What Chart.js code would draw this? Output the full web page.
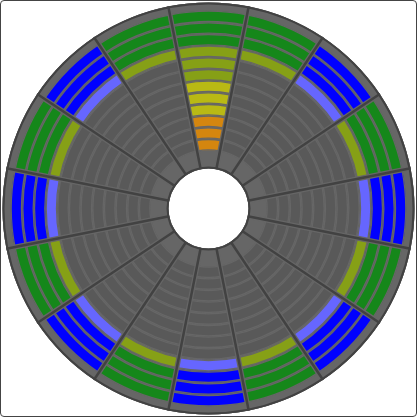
<!DOCTYPE html>
<html><head><meta charset="utf-8">
<script src="https://cdn.jsdelivr.net/npm/chart.js@4/dist/chart.umd.min.js"></script>
<style>
html,body{margin:0;padding:0;background:#fff;}
#frame{position:absolute;left:0;top:0;width:415px;height:415px;border:1px solid #444;border-radius:4px;overflow:hidden;background:#fff;}
canvas{display:block;}
</style></head><body>
<div id="frame"><canvas id="c" width="415" height="415"></canvas></div>
<script>
// 16 sectors (compass directions), clockwise from the top
const directions = ['N','NNE','NE','ENE','E','ESE','SE','SSE','S','SSW','SW','WSW','W','WNW','NW','NNW'];
// number of lit segments in each sector (counted from the rim inwards)
const litSegments = [12,4,4,4,4,4,4,4,4,4,4,4,4,4,4,4];
// sectors drawn with the blue palette
const highlighted = [false,false,true,false,true,false,true,false,true,false,true,false,true,false,true,false];
const segmentCount = 12;
// colour per band of 3 segments, innermost band first
const bandColors = ['#d4860f','#b9b914','#86a016','#15871a'];
const highlightBandColors = ['#d4860f','#b9b914','#6666ff','#0000ff'];
const unlitColor = '#595959';
const wheelGrey = '#666666';
const lineColor = '#424242';

const pitch = 140 / segmentCount;
const datasets = [];
datasets.push({label:'rim', data:directions.map(()=>1), weight:8/pitch, backgroundColor:wheelGrey, borderWidth:0});
for (let k = segmentCount; k >= 1; k--) {
  datasets.push({
    label:'segment ' + k,
    data:directions.map(()=>1),
    weight:1,
    backgroundColor:directions.map((d,i)=> k > segmentCount - litSegments[i]
      ? (highlighted[i] ? highlightBandColors : bandColors)[Math.floor((k-1)/3)]
      : unlitColor),
    borderColor:wheelGrey,
    borderWidth:1,
    borderAlign:'inner'
  });
}
datasets.push({label:'hub', data:directions.map(()=>1), weight:18/pitch, backgroundColor:wheelGrey, borderWidth:0});

const wheelPlugin = {
  id:'wheel',
  beforeDatasetsDraw(chart){
    const o = chart.getDatasetMeta(0).data[0];
    const n = chart.getDatasetMeta(chart.data.datasets.length-1).data[0];
    const ctx = chart.ctx;
    ctx.save();
    ctx.beginPath();
    ctx.arc(o.x, o.y, o.outerRadius, 0, Math.PI*2);
    ctx.arc(o.x, o.y, n.innerRadius, 0, Math.PI*2, true);
    ctx.fillStyle = wheelGrey;
    ctx.fill();
    ctx.restore();
  },
  afterDatasetsDraw(chart){
    const arcs = chart.getDatasetMeta(0).data;
    const n = chart.getDatasetMeta(chart.data.datasets.length-1).data[0];
    const ctx = chart.ctx;
    const R = arcs[0].outerRadius, r = n.innerRadius, cx = arcs[0].x, cy = arcs[0].y;
    ctx.save();
    ctx.lineCap = 'butt';
    const drawLines = (w, col) => {
      ctx.strokeStyle = col; ctx.lineWidth = w;
      arcs.forEach(a => {
        const t = a.startAngle;
        ctx.beginPath();
        ctx.moveTo(cx + Math.cos(t)*r, cy + Math.sin(t)*r);
        ctx.lineTo(cx + Math.cos(t)*R, cy + Math.sin(t)*R);
        ctx.stroke();
      });
    };
    drawLines(5, wheelGrey);
    drawLines(2.5, lineColor);
    ctx.strokeStyle = lineColor; ctx.lineWidth = 2;
    ctx.beginPath(); ctx.arc(cx, cy, R-1, 0, Math.PI*2); ctx.stroke();
    ctx.beginPath(); ctx.arc(cx, cy, r+1, 0, Math.PI*2); ctx.stroke();
    ctx.restore();
  }
};

new Chart(document.getElementById('c'), {
  type:'doughnut',
  data:{labels:directions, datasets:datasets},
  options:{
    responsive:false,
    animation:false,
    radius:206,
    cutout:(40/206*100)+'%',
    rotation:-360/directions.length/2,
    layout:{padding:0},
    plugins:{legend:{display:false}, tooltip:{enabled:false}},
    events:[]
  },
  plugins:[wheelPlugin]
});
</script>
</body></html>
